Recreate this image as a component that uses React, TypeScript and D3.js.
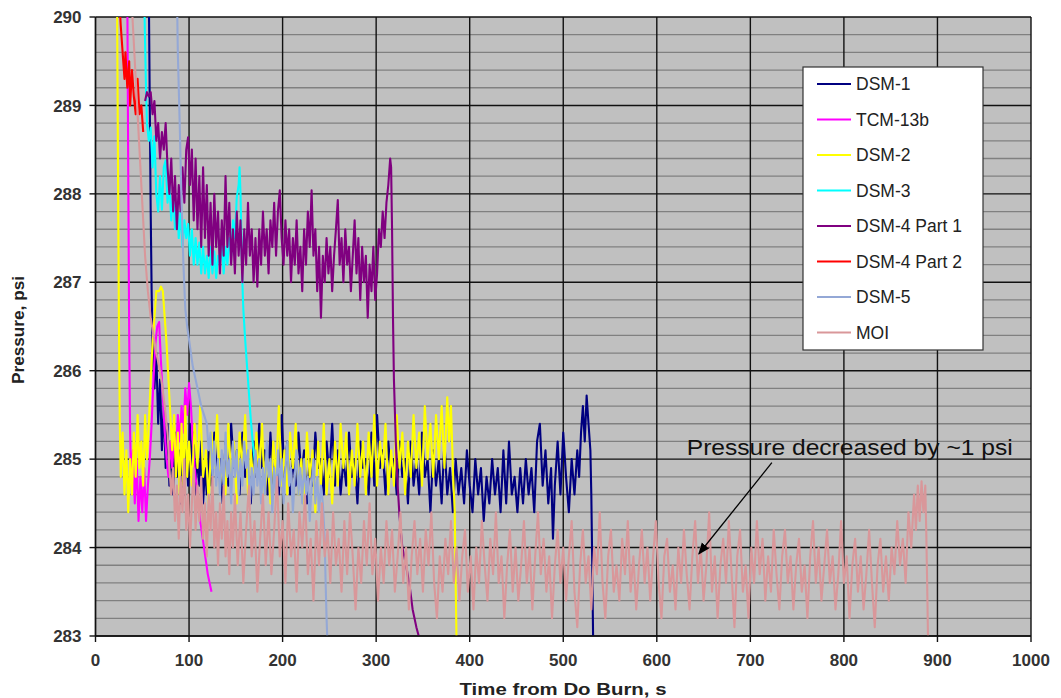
import React from "react";
import * as d3 from "d3";

const W = 1061;
const H = 698;
const plot = { left: 95.5, right: 1031, top: 17, bottom: 636 };

const xTicks = [0, 100, 200, 300, 400, 500, 600, 700, 800, 900, 1000];
const yTicks = [283, 284, 285, 286, 287, 288, 289, 290];

const seriesNames = ["DSM-1", "TCM-13b", "DSM-2", "DSM-3", "DSM-4 Part 1", "DSM-4 Part 2", "DSM-5", "MOI"];
const seriesColors = ["#000080", "#ff00ff", "#ffff00", "#00ffff", "#800080", "#ff0000", "#94a8d6", "#d9979a"];

// [time s, pressure psi]
const dsm1: [number, number][] = [
  [57,290.3],[58,289.0],[59,287.8],[60,286.9],[61,286.3],[63,285.8],[65,286.2],[67,285.4],[69,285.9],[71,285.1],
  [73,285.6],[75,284.9],[77,285.4],[79,284.7],[81,285.2],[83,284.6],[85,285.3],[87,284.8],[89,285.1],[91,284.5],
  [93,285.0],[95,284.6],[97,285.2],[99,284.7],[101,285.4],[103,284.9],[105,285.3],[107,284.6],[109,285.1],[111,284.7],
  [113,285.2],[115,284.5],[117,284.9],[119,284.6],[121,285.1],[124,284.7],[127,285.3],[130,284.8],[133,285.0],[136,284.5],
  [139,285.2],[142,284.7],[145,285.4],[148,284.9],[151,285.1],[154,284.6],[157,285.3],[160,284.8],[163,285.0],[166,284.5],
  [169,285.2],[172,284.8],[175,285.4],[178,284.9],[181,285.1],[184,284.6],[187,285.3],[190,284.7],[193,285.0],[196,284.6],
  [199,285.5],[202,284.8],[205,285.2],[208,284.6],[211,285.0],[214,284.7],[217,285.3],[220,284.8],[223,285.1],[226,284.5],
  [229,285.0],[232,284.7],[235,285.3],[238,284.9],[241,285.0],[244,284.6],[247,285.2],[250,284.8],[253,285.4],[256,284.7],
  [259,285.1],[262,284.6],[265,285.0],[268,284.7],[271,285.3],[274,284.8],[277,285.0],[280,284.5],[283,285.2],[286,284.9],
  [289,285.0],[292,284.6],[295,285.3],[298,284.7],[301,285.5],[304,284.9],[307,285.1],[310,284.6],[313,285.2],[316,284.8],
  [319,285.0],[322,284.6],[325,285.2],[328,284.8],[331,285.0],[334,284.5],[337,285.2],[340,284.7],[343,285.0],[346,284.6],
  [349,285.3],[352,284.8],[355,285.0],[358,284.4],[361,285.1],[364,284.7],[367,285.0],[370,284.5],[373,285.2],[376,284.6],
  [379,284.9],[382,284.4],[385,285.0],[388,284.6],[391,284.9],[394,284.5],[397,285.1],[400,284.7],[403,284.4],[406,285.0],
  [409,284.6],[412,284.9],[415,284.3],[418,284.8],[421,284.5],[424,285.0],[427,284.6],[430,284.9],[433,284.4],[436,285.1],
  [439,284.5],[442,285.2],[445,284.6],[448,284.8],[451,284.4],[454,284.9],[457,284.5],[460,285.0],[463,284.6],[466,284.9],
  [469,284.4],[472,285.2],[475,285.4],[478,284.7],[481,285.1],[484,284.5],[487,284.9],[489,284.1],[491,284.7],[494,285.2],
  [497,284.6],[500,285.3],[503,284.8],[506,284.4],[509,285.0],[512,284.6],[515,285.1],[517,284.8],[519,285.3],[521,285.6],
  [523,285.2],[525,285.72],[527,285.4],[529,285.1],[530,284.6],[531,283.8],[532,282.9],
];

const tcm13b: [number, number][] = [
  [34,290.3],[35,288.2],[36,286.4],[37,285.3],[38,284.8],[40,285.1],[42,284.5],[44,285.0],[46,284.3],[48,284.8],
  [50,284.4],[52,284.9],[54,284.3],[56,284.7],[58,285.0],[60,285.4],[62,285.9],[64,286.3],[66,286.5],[68,286.55],
  [70,286.1],[72,285.7],[74,285.3],[76,285.0],[78,284.8],[80,285.2],[82,284.9],[84,285.3],[86,285.0],[88,285.5],
  [90,285.2],[92,285.6],[94,285.3],[96,285.8],[98,285.5],[100,285.86],[102,285.6],[104,285.2],[106,284.9],[108,284.7],
  [110,284.5],[112,284.3],[114,284.15],[116,284.0],[118,283.85],[120,283.7],[122,283.6],[124,283.5],
];

const dsm2: [number, number][] = [
  [23,290.3],[24,288.4],[25,286.6],[26,285.4],[27,284.8],[29,285.3],[31,284.6],[33,285.1],[35,284.4],[37,285.0],
  [39,284.6],[41,285.3],[43,284.8],[45,285.5],[47,284.9],[49,285.2],[51,284.7],[53,285.5],[55,285.0],[57,285.4],
  [59,285.9],[61,286.3],[63,286.6],[65,286.9],[68,286.9],[70,286.95],[72,286.9],[74,286.6],[76,286.3],[78,285.9],
  [80,285.5],[82,285.1],[84,285.5],[86,284.8],[88,285.3],[90,284.6],[92,285.4],[94,284.7],[96,285.6],[98,284.8],
  [100,285.2],[103,284.7],[106,285.4],[109,284.9],[112,285.6],[115,284.8],[118,285.1],[121,284.5],[124,285.3],[127,284.9],
  [130,285.5],[133,284.7],[136,285.0],[139,284.6],[142,285.4],[145,284.8],[148,285.2],[151,284.5],[154,285.3],[157,284.9],
  [160,285.5],[163,284.6],[166,285.1],[169,284.7],[172,285.3],[175,284.8],[178,285.4],[181,284.6],[184,285.0],[187,284.5],
  [190,285.2],[193,284.8],[196,285.6],[199,284.7],[202,285.1],[205,284.6],[208,285.3],[211,284.9],[214,285.4],[217,284.6],
  [220,285.0],[223,284.5],[226,285.3],[229,284.8],[232,285.1],[235,284.4],[238,285.2],[241,284.7],[244,285.4],[247,284.6],
  [250,285.0],[253,284.5],[256,285.2],[259,284.7],[262,285.4],[265,284.9],[268,285.3],[271,284.6],[274,285.1],[277,284.7],
  [280,285.4],[283,284.8],[286,285.2],[289,284.6],[292,285.3],[295,284.8],[298,285.5],[301,284.7],[304,285.2],[307,284.9],
  [310,285.4],[313,284.6],[316,285.1],[319,284.7],[322,285.5],[325,284.9],[328,285.3],[331,284.6],[334,285.2],[337,284.8],
  [340,285.5],[343,284.9],[346,285.3],[349,284.7],[352,285.6],[355,285.0],[358,285.4],[361,284.8],[364,285.5],[367,285.0],
  [370,285.6],[373,284.9],[376,285.7],[378,285.2],[380,285.6],[382,284.9],[384,284.4],[385,283.6],[386,282.9],
];

const dsm3: [number, number][] = [
  [52,290.3],[53,289.7],[54,289.2],[55,288.8],[57,288.6],[59,288.75],[61,288.3],[63,288.65],[65,288.0],[67,287.8],
  [69,288.2],[71,287.82],[73,288.3],[75,288.38],[77,287.9],[79,288.1],[81,287.7],[83,288.0],[85,287.6],[87,287.9],
  [89,287.5],[91,287.8],[93,287.4],[95,287.7],[97,287.5],[99,287.66],[101,287.3],[103,287.6],[105,287.2],[107,287.5],
  [109,287.2],[111,287.45],[113,287.1],[115,287.4],[117,287.1],[119,287.3],[121,287.05],[123,287.4],[125,287.1],[127,287.35],
  [129,287.05],[131,287.3],[133,287.2],[135,287.45],[137,287.1],[139,287.4],[141,287.2],[143,287.5],[145,287.3],[147,287.7],
  [149,287.5],[151,287.96],[153,288.1],[154,288.3],[155,288.0],[156,287.5],[157,287.0],[158,286.7],[160,286.35],[162,286.05],
  [164,285.75],[166,285.45],[168,285.2],[170,285.0],[171,284.9],
];

const dsm4p1: [number, number][] = [
  [53,289.05],[55,289.15],[57,289.1],[59,289.15],[61,288.9],[63,289.05],[65,288.6],[67,288.8],[69,288.4],[71,288.7],
  [73,288.5],[75,288.8],[77,288.3],[79,288.0],[81,288.4],[83,287.8],[85,288.2],[87,287.6],[89,288.1],[91,287.8],
  [93,288.3],[95,287.9],[97,288.5],[99,288.64],[101,288.1],[103,288.5],[105,287.7],[107,288.4],[109,287.6],[111,288.2],
  [113,287.4],[115,288.3],[117,287.5],[119,288.1],[121,287.3],[123,287.9],[125,287.2],[127,288.0],[129,287.4],[131,287.8],
  [133,287.1],[135,287.7],[137,287.3],[139,288.2],[141,287.4],[143,287.9],[145,287.2],[147,287.6],[149,287.1],[151,287.8],
  [153,287.3],[155,287.7],[157,287.0],[159,287.6],[161,287.2],[163,287.9],[165,287.3],[167,287.6],[169,287.0],[171,287.5],
  [173,286.95],[175,287.6],[177,287.2],[179,287.8],[181,287.3],[183,287.6],[185,287.1],[187,287.7],[189,287.4],[191,287.9],
  [193,287.3],[195,287.8],[197,288.04],[199,287.5],[201,287.2],[203,287.7],[205,287.3],[207,287.6],[209,287.0],[211,287.5],
  [213,287.2],[215,287.7],[217,287.1],[219,287.4],[221,286.9],[223,287.6],[225,287.2],[227,287.8],[229,287.4],[231,288.04],
  [233,287.3],[235,287.6],[237,286.9],[239,287.4],[241,286.6],[243,287.3],[245,287.0],[247,287.5],[249,287.1],[251,287.4],
  [253,286.9],[255,287.3],[257,287.6],[259,287.93],[261,287.2],[263,287.5],[265,287.0],[267,287.6],[269,287.2],[271,287.4],
  [273,286.9],[275,287.3],[277,287.7],[279,287.1],[281,287.5],[283,286.8],[285,287.4],[287,287.0],[289,287.3],[291,286.6],
  [293,287.2],[295,286.9],[297,287.4],[299,286.8],[301,287.1],[303,287.6],[305,287.4],[307,287.8],[309,287.5],[311,287.9],
  [313,288.1],[315,288.4],[316,288.3],[317,287.6],[318,286.6],[319,285.9],[321,285.2],[323,284.7],[325,284.35],[328,284.0],
  [332,283.8],[336,283.55],[339,283.3],[343,283.1],[348,282.9],
];

const dsm4p2: [number, number][] = [
  [25,290.3],[27,289.9],[29,289.6],[31,289.3],[32,289.6],[34,289.2],[36,289.5],[37,289.0],[39,289.4],[41,289.1],
  [43,288.9],[45,289.3],[47,288.9],[49,289.0],[51,288.7],
];

const dsm5: [number, number][] = [
  [87,290.3],[88,289.6],[90,288.8],[92,287.9],[94,287.2],[96,286.7],[98,286.5],[100,286.35],[102,286.2],[104,286.05],
  [107,285.9],[110,285.75],[113,285.6],[116,285.5],[119,285.4],[121,285.1],[123,285.3],[125,284.8],[127,285.2],[129,284.7],
  [131,285.0],[133,284.6],[135,285.1],[137,284.7],[139,285.3],[141,284.8],[143,285.0],[145,284.5],[147,285.2],[149,284.8],
  [151,285.1],[153,284.6],[155,285.0],[157,284.7],[159,285.2],[161,284.9],[163,285.1],[165,284.5],[167,284.9],[169,284.6],
  [171,285.1],[173,284.7],[175,285.0],[177,284.5],[179,284.9],[181,284.6],[183,285.2],[185,284.8],[187,285.0],[189,284.4],
  [191,284.9],[193,284.6],[195,285.1],[197,284.7],[199,285.0],[201,284.5],[203,284.9],[205,285.2],[207,284.7],[209,284.9],
  [211,284.4],[213,284.8],[215,285.1],[217,284.6],[219,284.9],[221,284.5],[223,285.0],[225,284.6],[227,284.8],[229,284.3],
  [231,284.7],[233,285.0],[235,284.5],[237,284.8],[239,284.4],[241,284.7],[243,284.5],[245,284.1],[246,283.6],[247,283.2],
  [248,282.9],
];

const moi: [number, number][] = [
  [38,290.3],[41,289.7],[44,289.1],[47,288.5],[50,287.9],[53,287.3],[56,286.9],[59,286.6],[62,286.4],[65,286.2],
  [68,286.05],[71,285.85],[74,285.6],[77,285.3],[79,284.9],[81,284.6],[83,284.9],[85,284.3],[87,284.7],[89,284.1],
  [91,284.8],[93,284.4],[95,285.0],[97,284.2],[99,284.6],[101,284.0],[103,284.5],[105,284.9],[107,284.2],[109,284.7],
  [111,284.3],[113,284.8],[115,284.1],[117,284.5],[119,283.9],[121,284.6],[123,284.2],[125,284.8],[127,284.0],[129,284.4],
  [131,283.8],[133,284.5],[135,284.1],[137,284.7],[139,283.9],[141,284.3],[143,283.7],[145,284.4],[147,284.0],[149,284.6],
  [152,283.8],[155,284.4],[158,283.6],[161,284.2],[164,284.7],[167,283.9],[170,284.3],[173,283.5],[176,284.1],[179,284.6],
  [182,283.8],[185,284.4],[188,283.7],[191,284.2],[194,284.8],[197,283.9],[200,284.3],[203,283.6],[206,284.5],[209,283.9],
  [212,284.2],[215,283.5],[218,284.4],[221,284.0],[224,284.6],[227,283.7],[230,284.1],[233,283.4],[236,284.3],[239,283.8],
  [242,284.5],[245,283.9],[248,284.2],[251,283.6],[254,284.4],[257,283.8],[260,284.1],[263,283.5],[266,284.3],[269,283.7],
  [272,284.4],[275,283.9],[278,283.3],[281,284.0],[284,283.6],[287,284.3],[290,283.8],[293,284.5],[296,283.7],[299,284.1],
  [302,283.4],[305,284.0],[308,283.6],[311,284.3],[314,283.8],[317,284.2],[320,283.5],[323,283.9],[326,284.4],[329,283.6],
  [332,284.0],[335,283.3],[338,283.9],[341,284.3],[344,283.7],[347,284.1],[350,283.5],[353,284.2],[356,283.8],[359,284.4],
  [362,283.6],[365,283.2],[368,283.9],[371,283.5],[374,284.1],[377,283.7],[380,284.3],[383,283.6],[386,284.0],[389,283.4],
  [392,283.9],[395,284.2],[398,283.5],[401,283.9],[404,283.3],[407,284.0],[410,283.6],[413,284.3],[416,283.8],[419,283.4],
  [422,284.1],[425,283.7],[428,284.4],[431,283.6],[434,283.9],[437,283.2],[440,283.8],[443,284.2],[446,283.5],[449,284.0],
  [452,283.4],[455,283.8],[458,284.3],[461,283.6],[464,284.0],[467,283.3],[470,283.9],[473,284.4],[476,283.7],[479,284.1],
  [482,283.5],[485,283.9],[488,283.2],[491,283.8],[494,284.2],[497,283.6],[500,284.0],[503,283.4],[506,283.9],[509,284.3],
  [512,283.5],[515,283.1],[518,283.8],[521,284.2],[524,283.6],[527,283.9],[530,283.3],[533,284.0],[536,283.7],[539,284.4],
  [542,283.6],[545,283.2],[548,283.9],[551,284.2],[554,283.5],[557,283.8],[560,283.4],[563,284.1],[566,283.7],[569,284.3],
  [572,283.5],[575,283.9],[578,283.3],[581,283.8],[584,284.2],[587,283.6],[590,284.0],[593,283.4],[596,283.9],[599,284.3],
  [602,283.6],[605,283.2],[608,283.9],[611,284.1],[614,283.5],[617,283.8],[620,283.3],[623,284.0],[626,283.6],[629,284.2],
  [632,283.7],[635,283.3],[638,283.9],[641,284.3],[644,283.6],[647,284.0],[650,283.4],[653,283.8],[656,284.4],[659,283.5],
  [662,283.9],[665,283.2],[668,283.8],[671,284.1],[674,283.6],[677,284.3],[680,283.7],[683,283.1],[686,283.9],[689,284.2],
  [692,283.5],[695,283.8],[698,283.2],[701,284.0],[704,283.6],[707,284.3],[710,283.7],[713,284.1],[716,283.4],[719,283.9],
  [722,283.5],[725,284.2],[728,283.7],[731,283.3],[734,283.9],[737,284.2],[740,283.6],[743,283.9],[746,283.3],[749,283.8],
  [752,284.1],[755,283.5],[758,283.8],[761,283.2],[764,283.9],[767,284.3],[770,283.6],[773,284.0],[776,283.4],[779,283.8],
  [782,284.2],[785,283.6],[788,283.9],[791,283.3],[794,283.7],[797,284.3],[800,283.6],[803,283.9],[806,283.2],[809,283.8],
  [812,284.1],[815,283.5],[818,283.9],[821,283.3],[824,283.7],[827,284.2],[830,283.6],[833,283.1],[836,283.8],[839,284.1],
  [842,283.5],[845,283.9],[848,283.4],[851,284.0],[854,283.7],[857,284.3],[860,283.8],[863,284.1],[866,283.6],[869,284.4],
  [872,284.0],[875,284.6],[877,284.2],[879,284.7],[881,284.3],[883,284.75],[885,284.4],[887,284.7],[888,284.2],[889,283.6],
  [890,282.9],
];

const seriesData = [dsm1, tcm13b, dsm2, dsm3, dsm4p1, dsm4p2, dsm5, moi];

const annotText = "Pressure decreased by ~1 psi";
const annotAt: [number, number] = [632, 285.05];
const arrowFrom: [number, number] = [723, 284.96];
const arrowTo: [number, number] = [645, 283.93];

const font = "'Liberation Sans', Arial, sans-serif";

export default function App() {
  const x = d3.scaleLinear().domain([0, 1000]).range([plot.left, plot.right]);
  const y = d3.scaleLinear().domain([283, 290]).range([plot.bottom, plot.top]);
  const line = d3
    .line<[number, number]>()
    .x((d) => x(d[0]))
    .y((d) => y(d[1]));
  const minorY = y.ticks(35).filter((v) => !yTicks.includes(v));

  const lgX = 803;
  const lgY = 67;
  const lgW = 180;
  const lgH = 283;
  const lgStep = 35.5;

  return (
    <svg width={W} height={H} style={{ position: "absolute", left: 0, top: 0, background: "#fff" }}>
      <defs>
        <clipPath id="plotClip">
          <rect x={plot.left} y={plot.top} width={plot.right - plot.left} height={plot.bottom - plot.top} />
        </clipPath>
        <marker id="arrowHead" viewBox="0 0 10 10" refX="9" refY="5" markerWidth="9" markerHeight="9" orient="auto">
          <path d="M0,1 L10,5 L0,9 z" fill="#000" />
        </marker>
      </defs>

      <rect x={plot.left} y={plot.top} width={plot.right - plot.left} height={plot.bottom - plot.top} fill="#c0c0c0" />

      {minorY.map((v) => (
        <line key={"my" + v} x1={plot.left} x2={plot.right} y1={y(v)} y2={y(v)} stroke="#808080" strokeWidth={1.3} />
      ))}
      {yTicks.map((v) => (
        <line key={"gy" + v} x1={plot.left} x2={plot.right} y1={y(v)} y2={y(v)} stroke="#111" strokeWidth={1.4} />
      ))}
      {xTicks.map((v) => (
        <line key={"gx" + v} x1={x(v)} x2={x(v)} y1={plot.top} y2={plot.bottom} stroke="#111" strokeWidth={1.4} />
      ))}

      <g clipPath="url(#plotClip)" fill="none" strokeLinejoin="round">
        {seriesData.map((s, i) => (
          <path key={seriesNames[i]} d={line(s) || ""} stroke={seriesColors[i]} strokeWidth={2.1} />
        ))}
      </g>

      {/* axes */}
      <line x1={plot.left} x2={plot.left} y1={plot.top} y2={plot.bottom} stroke="#111" strokeWidth={1.4} />
      <line x1={plot.left} x2={plot.right} y1={plot.bottom} y2={plot.bottom} stroke="#111" strokeWidth={1.4} />
      {yTicks.map((v) => (
        <g key={"ty" + v}>
          <line x1={plot.left - 6} x2={plot.left} y1={y(v)} y2={y(v)} stroke="#111" strokeWidth={1.4} />
          <text x={plot.left - 14} y={y(v)} dy="0.36em" textAnchor="end" fontFamily={font} fontSize={17} fontWeight={600} fill="#333">
            {v}
          </text>
        </g>
      ))}
      {xTicks.map((v) => (
        <g key={"tx" + v}>
          <line x1={x(v)} x2={x(v)} y1={plot.bottom} y2={plot.bottom + 6} stroke="#111" strokeWidth={1.4} />
          <text x={x(v)} y={plot.bottom + 30} textAnchor="middle" fontFamily={font} fontSize={17} fontWeight={600} fill="#333">
            {v}
          </text>
        </g>
      ))}

      <text x={563} y={695} textAnchor="middle" fontFamily={font} fontSize={17} fontWeight="bold" fill="#222" textLength={207} lengthAdjust="spacingAndGlyphs">
        Time from Do Burn, s
      </text>
      <text
        transform={`translate(24,330) rotate(-90)`}
        textAnchor="middle"
        fontFamily={font}
        fontSize={16}
        fontWeight="bold"
        fill="#222"
        textLength={108}
        lengthAdjust="spacingAndGlyphs"
      >
        Pressure, psi
      </text>

      {/* annotation */}
      <text x={x(annotAt[0])} y={y(annotAt[1])} fontFamily={font} fontSize={22} fill="#111" textLength={326} lengthAdjust="spacingAndGlyphs">
        {annotText}
      </text>
      <line
        x1={x(arrowFrom[0])}
        y1={y(arrowFrom[1])}
        x2={x(arrowTo[0])}
        y2={y(arrowTo[1])}
        stroke="#000"
        strokeWidth={1.3}
        markerEnd="url(#arrowHead)"
      />

      {/* legend */}
      <rect x={lgX} y={lgY} width={lgW} height={lgH} fill="#fff" stroke="#333" strokeWidth={1.2} />
      {seriesNames.map((n, i) => {
        const cy = lgY + 17 + i * lgStep;
        return (
          <g key={"lg" + n}>
            <line x1={lgX + 14} x2={lgX + 48} y1={cy} y2={cy} stroke={seriesColors[i]} strokeWidth={2} />
            <text x={lgX + 53} y={cy} dy="0.36em" fontFamily={font} fontSize={17.5} fill="#222">
              {n}
            </text>
          </g>
        );
      })}
    </svg>
  );
}
